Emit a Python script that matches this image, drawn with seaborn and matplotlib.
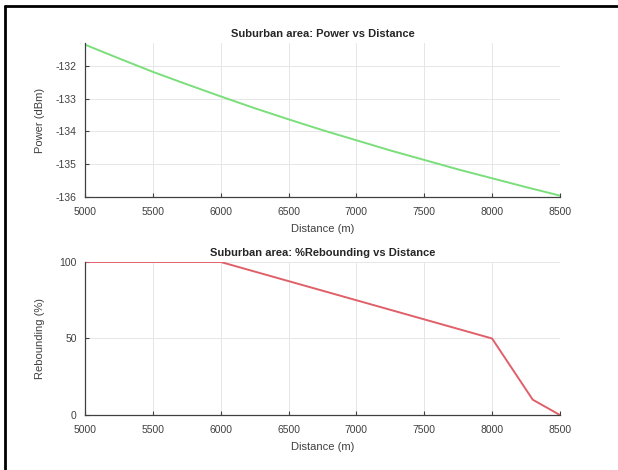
import matplotlib
matplotlib.use("Agg")
import matplotlib.pyplot as plt
from matplotlib.lines import Line2D
import seaborn as sns
import pandas as pd

# valeurs
distance_p = [5000, 5250, 5500, 5750, 6000, 6250, 6500, 6750, 7000, 7250, 7500, 7750, 8000, 8250, 8500]
puissance = [-131.35, -131.77, -132.18, -132.56, -132.93, -133.29, -133.63, -133.96,
             -134.27, -134.58, -134.87, -135.16, -135.43, -135.70, -135.96]

distance_r = [5000, 6000, 8000, 8300, 8500]
rebond = [100, 100, 50, 10, 0]

x_ticks = [5000, 5500, 6000, 6500, 7000, 7500, 8000, 8500]

sns.set_style("whitegrid")
plt.rcParams['font.family'] = ['Liberation Sans', 'DejaVu Sans']
plt.rcParams['axes.unicode_minus'] = False

df_p = pd.DataFrame({"Distance": distance_p, "Power": puissance})
df_r = pd.DataFrame({"Distance": distance_r, "Rebounding": rebond})

fig = plt.figure(figsize=(6.18, 4.70), dpi=100)
ax1 = fig.add_axes([0.1375, 0.581, 0.7685, 0.3275])
ax2 = fig.add_axes([0.1375, 0.117, 0.7685, 0.3256])

sns.lineplot(x="Distance", y="Power", data=df_p, ax=ax1, color="#7ade7a", linewidth=1.4)
sns.lineplot(x="Distance", y="Rebounding", data=df_r, ax=ax2, color="#e0606a", linewidth=1.4)

def style_axe(ax, titre, titre_y, pad_y):
    ax.set_xlim(5000, 8500)
    ax.set_xticks(x_ticks)
    ax.set_title(titre, fontsize=8, fontweight="bold", color="#262626", pad=4)
    ax.set_xlabel("Distance (m)", fontsize=8, color="#404040", labelpad=5)
    ax.set_ylabel(titre_y, fontsize=8, color="#404040", labelpad=pad_y)
    ax.grid(True, color="#e6e6e6", linewidth=0.7)
    for s in ["top", "right"]:
        ax.spines[s].set_visible(False)
    for s in ["left", "bottom"]:
        ax.spines[s].set_color("#404040")
        ax.spines[s].set_linewidth(0.9)
    ax.tick_params(axis="both", direction="in", length=3, width=0.8, color="#404040",
                   labelsize=7.5, labelcolor="#404040", bottom=True, left=True)
    ax.tick_params(axis="x", pad=7)
    ax.tick_params(axis="y", pad=6)

style_axe(ax1, "Suburban area: Power vs Distance", "Power (dBm)", 8)
ax1.set_ylim(-136, -131.3)
ax1.set_yticks([-136, -135, -134, -133, -132])

style_axe(ax2, "Suburban area: %Rebounding vs Distance", "Rebounding (%)", 10)
ax2.set_ylim(0, 100)
ax2.set_yticks([0, 50, 100])

# cadre noir (haut et gauche) de la capture
fig.add_artist(Line2D([5 / 618, 1], [1 - 6 / 470, 1 - 6 / 470], transform=fig.transFigure, color="black", linewidth=2))
fig.add_artist(Line2D([5 / 618, 5 / 618], [0, 1 - 6 / 470], transform=fig.transFigure, color="black", linewidth=2))

fig.savefig("out.png", dpi=100)
